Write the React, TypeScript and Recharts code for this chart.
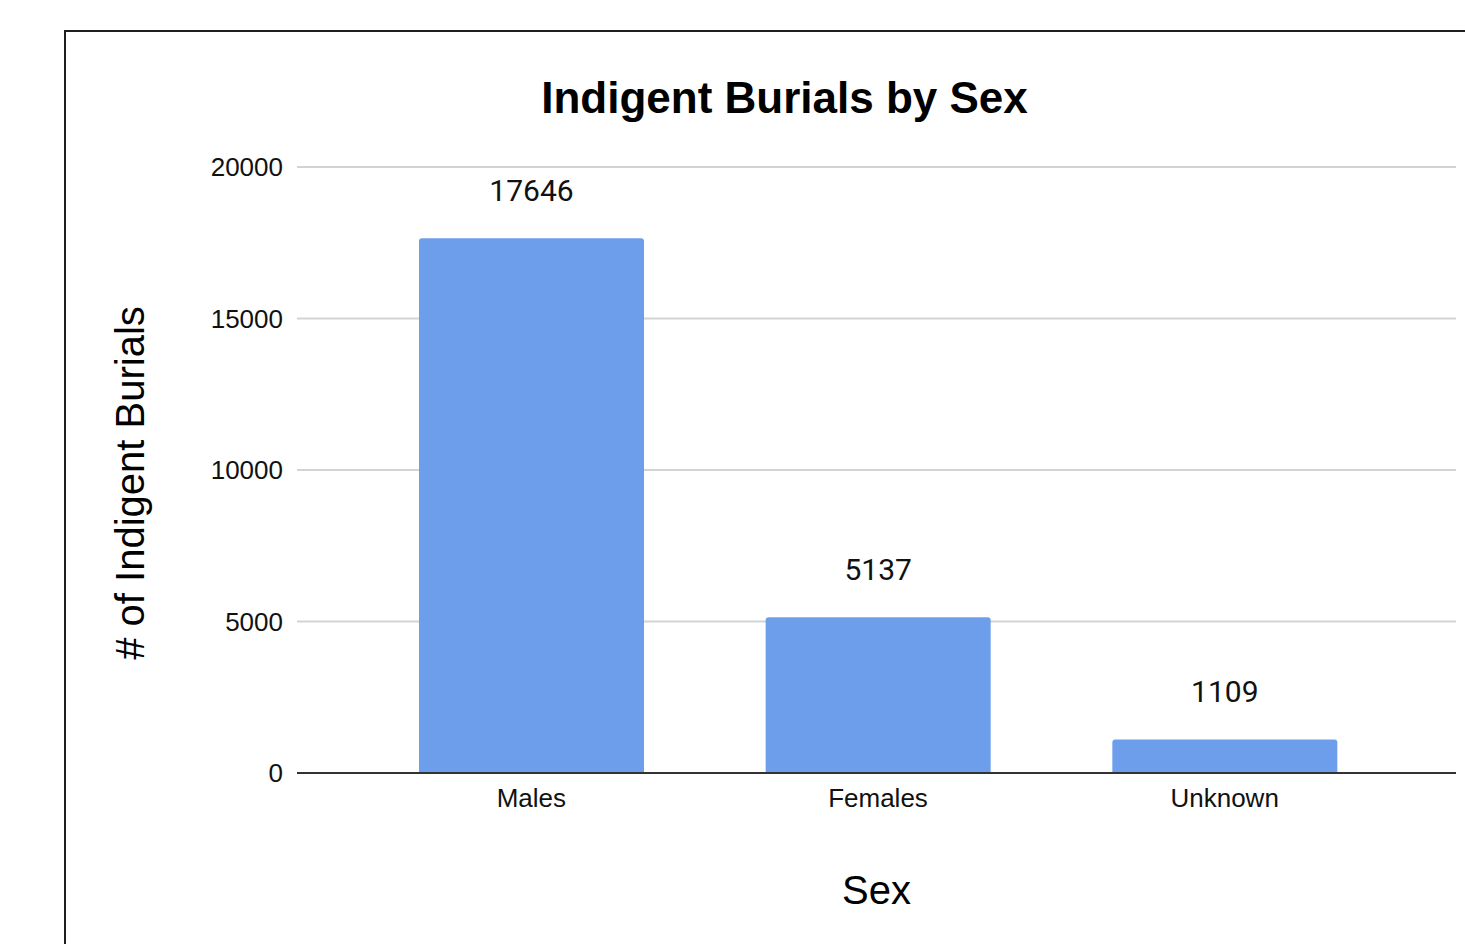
import React from "react";
import { BarChart, Bar, XAxis, YAxis, CartesianGrid, LabelList, Label } from "recharts";

const categories = ["Males", "Females", "Unknown"];
const burials = [17646, 5137, 1109];
const yTicks = [0, 5000, 10000, 15000, 20000];

const data = categories.map((name, i) => ({ name, burials: burials[i] }));

const SANS = "'Liberation Sans', Arial, Helvetica, sans-serif";

export default function App() {
  return (
    <div style={{ position: "absolute", left: 0, top: 0, width: 1465, height: 944, overflow: "hidden", background: "#fff" }}>
      <BarChart
        width={1465}
        height={944}
        data={data}
        margin={{ top: 167, right: 9, bottom: 0, left: 0 }}
      >
        {/* outer frame, runs off the right and bottom edges */}
        <rect x={65} y={31} width={1500} height={1000} fill="none" stroke="#1f1f1f" strokeWidth={2} />
        <text
          x={784.5}
          y={113}
          textAnchor="middle"
          style={{ fontFamily: SANS, fontSize: 44, fontWeight: 700, fill: "#000" }}
        >
          Indigent Burials by Sex
        </text>
        <text
          x={144}
          y={483}
          transform="rotate(-90 144 483)"
          textAnchor="middle"
          style={{ fontFamily: SANS, fontSize: 40, fill: "#000" }}
        >
          # of Indigent Burials
        </text>
        <CartesianGrid vertical={false} stroke="#d3d3d3" strokeWidth={2} />
        <XAxis
          dataKey="name"
          height={171}
          padding={{ left: 61, right: 58 }}
          tickLine={false}
          axisLine={{ stroke: "#333", strokeWidth: 2 }}
          tickMargin={10}
          tick={{ fill: "#111", fontSize: 26, fontFamily: SANS }}
        >
          <Label
            value="Sex"
            position="insideBottom"
            offset={40}
            style={{ fontFamily: SANS, fontSize: 40, fill: "#000" }}
          />
        </XAxis>
        <YAxis
          width={297}
          domain={[0, 20000]}
          ticks={yTicks}
          tickLine={false}
          axisLine={false}
          tickMargin={8}
          tick={{ fill: "#111", fontSize: 26, fontFamily: SANS }}
        />
        <Bar dataKey="burials" fill="#6d9eeb" barSize={225} radius={[3, 3, 0, 0]} isAnimationActive={false}>
          <LabelList
            dataKey="burials"
            position="top"
            offset={37}
            style={{ fill: "#111", fontSize: 30, fontFamily: "Roboto, sans-serif" }}
          />
        </Bar>
      </BarChart>
    </div>
  );
}
